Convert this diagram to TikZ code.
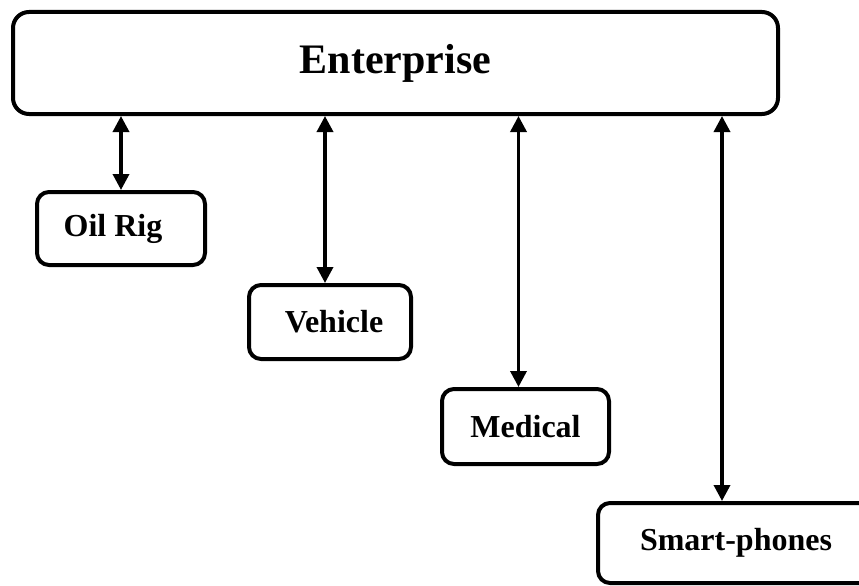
\documentclass[tikz,border=0pt]{standalone}
\usepackage{fontspec}
\setmainfont{Liberation Serif}
\usepackage{tikz}
\usetikzlibrary{arrows.meta}

\begin{document}
\begin{tikzpicture}[x=1pt, y=-1pt,
	bigbox/.style={font=\fontsize{42}{50}\selectfont\bfseries, draw, line width=4, rounded corners=16, minimum width=765, minimum height=102, inner sep=0, align=center},
	smallbox/.style={font=\fontsize{32}{38}\selectfont\bfseries, draw, line width=4, rounded corners=12, inner sep=0, align=center},
	link/.style={line width=3.5, {Triangle[length=16pt,width=16pt]}-{Triangle[length=16pt,width=16pt]}}
]
\useasboundingbox (0,0) rectangle (859,586);

\node[bigbox] (enterprise) at (395.5,63) {\raisebox{6pt}{Enterprise}};

\node[smallbox, minimum width=168, minimum height=73] (oilrig) at (121,228.5) {\hspace*{-16pt}Oil Rig};
\node[smallbox, minimum width=162, minimum height=74] (vehicle) at (330,322) {\hspace*{8pt}Vehicle};
\node[smallbox, minimum width=167, minimum height=75] (medical) at (525.5,426.5) {Medical};
\node[smallbox, minimum width=276, minimum height=80] (phones) at (736,543) {Smart-phones};

\draw[link] (oilrig.north |- enterprise.south) -- (oilrig.north);
\draw[link] ([xshift=-5]vehicle.north |- enterprise.south) -- ([xshift=-5]vehicle.north);
\draw[link] ([xshift=-7]medical.north |- enterprise.south) -- ([xshift=-7]medical.north);
\draw[link] ([xshift=-14]phones.north |- enterprise.south) -- ([xshift=-14]phones.north);
\end{tikzpicture}
\end{document}
